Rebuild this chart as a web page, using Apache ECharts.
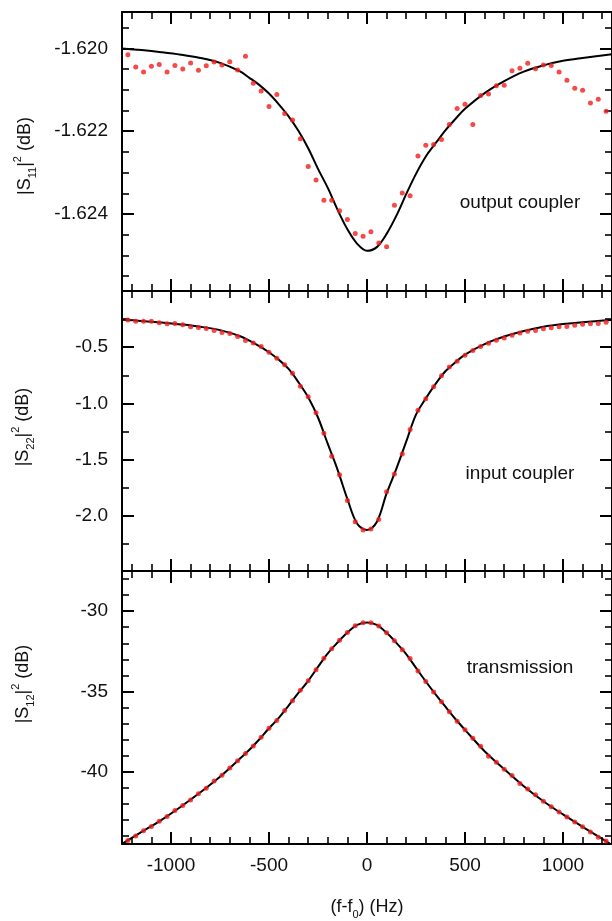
<!DOCTYPE html>
<html>
<head>
<meta charset="utf-8">
<script src="https://cdn.jsdelivr.net/npm/echarts@6/dist/echarts.min.js"></script>
<style>
  html, body { margin: 0; padding: 0; background: #fff; }
  #chart { width: 612px; height: 921px; }
</style>
</head>
<body>
<div id="chart"></div>
<script>
// measured frequencies (Hz, offset from f0)
var freq = [-1220, -1180, -1140, -1100, -1060, -1020, -980, -940, -900, -860, -820, -780, -740, -700, -660, -620,
  -580, -540, -500, -460, -420, -380, -340, -300, -260, -220, -180, -140, -100, -60, -20,
  20, 60, 100, 140, 180, 220, 260, 300, 340, 380, 420, 460, 500, 540, 580,
  620, 660, 700, 740, 780, 820, 860, 900, 940, 980, 1020, 1060, 1100, 1140, 1180, 1220];

var s11Pts = [-1.62015, -1.62045, -1.62057, -1.62043, -1.62039, -1.62057, -1.62041, -1.62050, -1.62035, -1.62053, -1.62042, -1.62033, -1.62040, -1.62032, -1.62052, -1.62019,
  -1.62084, -1.62103, -1.62140, -1.62111, -1.62157, -1.62173, -1.62218, -1.62285, -1.62318, -1.62367, -1.62367, -1.62392, -1.62413, -1.62447, -1.62454,
  -1.62443, -1.62470, -1.62479, -1.62379, -1.62349, -1.62356, -1.62260, -1.62234, -1.62232, -1.62220, -1.62184, -1.62145, -1.62135, -1.62184, -1.62114,
  -1.62110, -1.62090, -1.62089, -1.62054, -1.62048, -1.62036, -1.62049, -1.62040, -1.62041, -1.62057, -1.62077, -1.62096, -1.62101, -1.62132, -1.62123, -1.62152];

var s22Pts = [-0.259, -0.268, -0.268, -0.268, -0.283, -0.292, -0.289, -0.301, -0.319, -0.324, -0.333, -0.351, -0.369, -0.378, -0.404, -0.440,
  -0.462, -0.494, -0.545, -0.598, -0.655, -0.732, -0.848, -0.940, -1.083, -1.265, -1.470, -1.634, -1.863, -2.051, -2.125,
  -2.116, -2.033, -1.786, -1.628, -1.449, -1.232, -1.060, -0.958, -0.851, -0.753, -0.676, -0.625, -0.571, -0.530, -0.494,
  -0.464, -0.438, -0.417, -0.393, -0.373, -0.357, -0.351, -0.336, -0.327, -0.319, -0.315, -0.304, -0.295, -0.292, -0.289, -0.277];

var s12Pts = [-44.28, -44.00, -43.67, -43.41, -43.09, -42.79, -42.42, -42.10, -41.76, -41.37, -41.03, -40.58, -40.22, -39.76, -39.31, -38.87,
  -38.40, -37.85, -37.29, -36.81, -36.18, -35.58, -34.93, -34.34, -33.65, -32.93, -32.34, -31.82, -31.33, -30.91, -30.73,
  -30.73, -30.93, -31.35, -31.84, -32.40, -32.95, -33.73, -34.38, -35.03, -35.64, -36.26, -36.85, -37.39, -37.92, -38.42,
  -39.03, -39.41, -39.84, -40.24, -40.73, -41.07, -41.43, -41.84, -42.18, -42.50, -42.82, -43.13, -43.43, -43.76, -44.08, -44.32];

// fitted curves
var fitFreq = [-1250, -1150, -1050, -950, -850, -750, -650, -600, -550, -500, -450, -400, -350, -300, -250, -200, -150, -100, -50, 0,
  50, 100, 150, 200, 250, 300, 350, 400, 450, 500, 600, 700, 800, 900, 1000, 1100, 1250];

var s11Fit = [-1.62000, -1.62004, -1.62009, -1.62015, -1.62023, -1.62035, -1.62055, -1.62071, -1.62088, -1.62109, -1.62135, -1.62164, -1.62199, -1.62241, -1.62291, -1.62337, -1.62390, -1.62437, -1.62472, -1.62489,
  -1.62480, -1.62448, -1.62404, -1.62352, -1.62303, -1.62261, -1.62229, -1.62198, -1.62171, -1.62146, -1.62108, -1.62079, -1.62056, -1.62041, -1.62030, -1.62023, -1.62014];

var s22Fit = [-0.256, -0.266, -0.280, -0.297, -0.318, -0.348, -0.400, -0.441, -0.490, -0.545, -0.612, -0.693, -0.810, -0.945, -1.125, -1.36, -1.59, -1.85, -2.07, -2.125,
  -2.055, -1.80, -1.58, -1.34, -1.10, -0.955, -0.826, -0.714, -0.635, -0.565, -0.472, -0.405, -0.355, -0.318, -0.294, -0.277, -0.258];

var s12Fit = [-44.49, -43.75, -43.01, -42.18, -41.28, -40.31, -39.20, -38.63, -37.99, -37.29, -36.65, -35.88, -35.09, -34.34, -33.47, -32.63, -31.95, -31.33, -30.86, -30.70,
  -30.86, -31.35, -31.98, -32.67, -33.53, -34.38, -35.18, -35.95, -36.70, -37.39, -38.72, -39.84, -40.90, -41.84, -42.66, -43.43, -44.55];

var FONT = '"Liberation Sans", Arial, Helvetica, sans-serif';

function zip(xs, ys) {
  return xs.map(function (x, i) { return [x, ys[i]]; });
}

var panels = [
  { pts: s11Pts, fit: s11Fit, min: -1.62586, max: -1.61912, split: 3, minor: 4, digits: 3, top: 12, height: 279 },
  { pts: s22Pts, fit: s22Fit, min: -2.49, max: 0, split: 5, minor: 2, digits: 1, top: 291, height: 280 },
  { pts: s12Pts, fit: s12Fit, min: -44.5, max: -27.5, split: 3, minor: 5, digits: 0, top: 571, height: 282 }
];

var grids = [], xAxes = [], yAxes = [], series = [];

function axisBase() {
  return {
    type: 'value',
    axisLine: { onZero: false, lineStyle: { color: '#000', width: 2 } },
    axisTick: { inside: true, length: 12, lineStyle: { color: '#000', width: 2 } },
    minorTick: { show: true, length: 7, lineStyle: { color: '#000', width: 1.6 } },
    splitLine: { show: false },
    minorSplitLine: { show: false }
  };
}

panels.forEach(function (p, i) {
  grids.push({ left: 122, right: -1, top: p.top, height: p.height });

  ['bottom', 'top'].forEach(function (pos) {
    var ax = axisBase();
    ax.gridIndex = i;
    ax.position = pos;
    ax.min = -1250;
    ax.max = 1250;
    ax.splitNumber = 5;
    ax.minorTick.splitNumber = 5;
    ax.axisLabel = {
      show: pos === 'bottom' && i === 2,
      showMinLabel: false, showMaxLabel: false,
      fontSize: 19, fontFamily: FONT, color: '#111', margin: 12,
      formatter: function (v) { return String(v); }
    };
    if (pos === 'bottom' && i === 2) {
      ax.name = '{n|(f-f}{s|0}{n|) (Hz)}';
      ax.nameLocation = 'middle';
      ax.nameGap = 50;
      ax.nameTextStyle = {
        rich: {
          n: { fontSize: 18, fontFamily: FONT, color: '#111', lineHeight: 26, verticalAlign: 'middle' },
          s: { fontSize: 11, fontFamily: FONT, color: '#111', lineHeight: 26, verticalAlign: 'bottom' }
        }
      };
    }
    xAxes.push(ax);
  });

  ['left', 'right'].forEach(function (pos) {
    var ax = axisBase();
    ax.gridIndex = i;
    ax.position = pos;
    ax.min = p.min;
    ax.max = p.max;
    ax.splitNumber = p.split;
    ax.minorTick.splitNumber = p.minor;
    ax.axisLabel = {
      show: pos === 'left',
      showMinLabel: false, showMaxLabel: false,
      fontSize: 19, fontFamily: FONT, color: '#111', margin: 14,
      formatter: (function (d) { return function (v) { return v.toFixed(d); }; })(p.digits)
    };
    yAxes.push(ax);
  });

  series.push({
    type: 'line',
    xAxisIndex: 2 * i, yAxisIndex: 2 * i,
    data: zip(fitFreq, p.fit),
    smooth: 0.35,
    showSymbol: false,
    lineStyle: { color: '#000', width: 2 },
    z: 2
  });
  series.push({
    type: 'scatter',
    xAxisIndex: 2 * i, yAxisIndex: 2 * i,
    data: zip(freq, p.pts),
    symbolSize: 5,
    itemStyle: { color: '#f21d1d' },
    z: 3
  });
});

var richY = {
  n: { fontSize: 18, fontFamily: FONT, fill: '#111', lineHeight: 26, verticalAlign: 'middle' },
  s: { fontSize: 11, fontFamily: FONT, fill: '#111', lineHeight: 26, verticalAlign: 'bottom' },
  p: { fontSize: 11, fontFamily: FONT, fill: '#111', lineHeight: 26, verticalAlign: 'top' }
};

function yName(sub, cx, cy) {
  return {
    type: 'text', x: cx, y: cy, rotation: Math.PI / 2,
    style: {
      text: '{n||S}{s|' + sub + '}{n||}{p|2}{n| (dB)}',
      rich: richY, align: 'center', verticalAlign: 'middle'
    }
  };
}

function note(text, cx, cy) {
  return {
    type: 'text', x: cx, y: cy,
    style: { text: text, fontSize: 19, fontFamily: FONT, fill: '#111', align: 'center', verticalAlign: 'middle' }
  };
}

var chart = echarts.init(document.getElementById('chart'));
chart.setOption({
  animation: false,
  backgroundColor: '#fff',
  grid: grids,
  xAxis: xAxes,
  yAxis: yAxes,
  series: series,
  graphic: [
    yName('11', 25, 156),
    yName('22', 23, 427),
    yName('12', 23, 684),
    note('output coupler', 520, 203),
    note('input coupler', 520, 474),
    note('transmission', 520, 668)
  ]
});
</script>
</body>
</html>
